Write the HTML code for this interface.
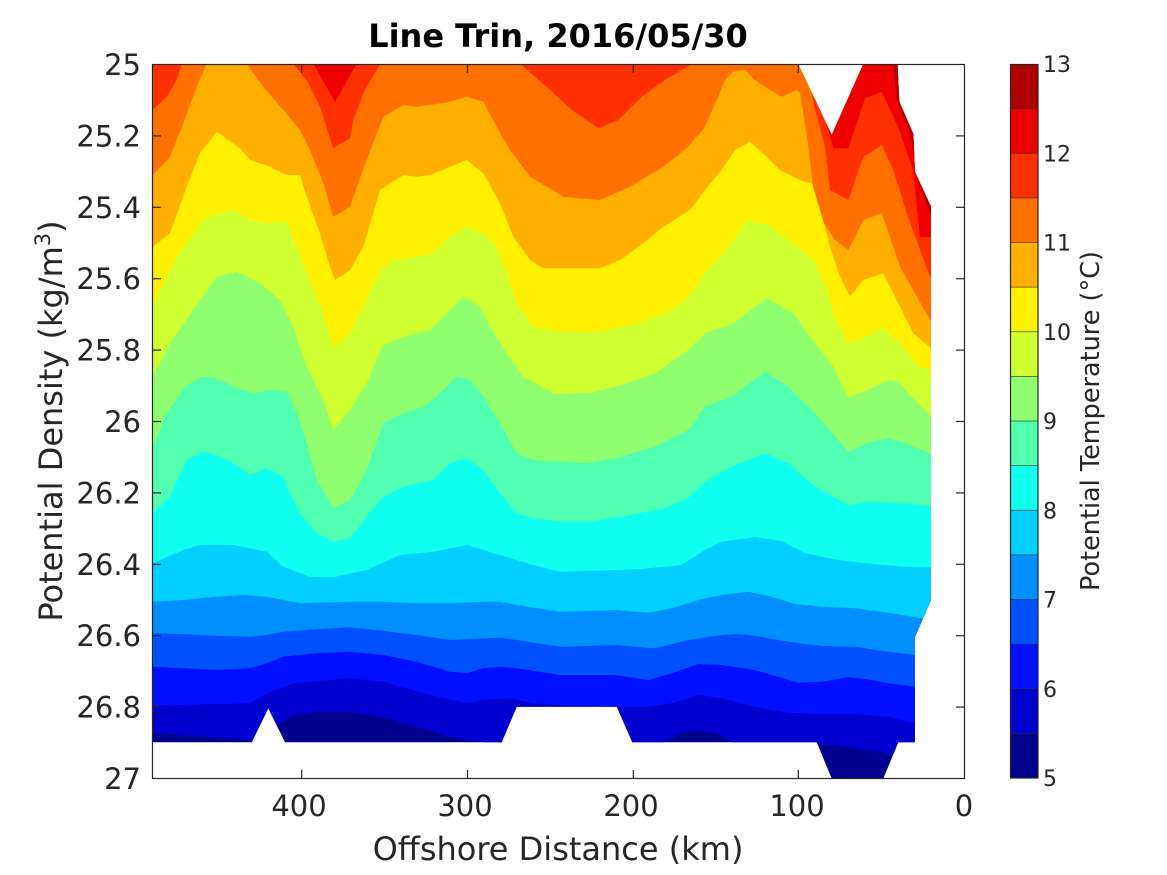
<!DOCTYPE html>
<html><head><meta charset="utf-8"><style>html,body{margin:0;padding:0;background:#fff}svg{display:block}text{font-family:"DejaVu Sans","Liberation Sans",sans-serif;fill:#262626}</style></head>
<body>
<svg width="1167" height="875" viewBox="0 0 1167 875" xmlns="http://www.w3.org/2000/svg">
<defs>
<clipPath id="dm"><path d="M152,64 L798.3,64 L831.7,135 L863.3,64 L897.5,64 L899.3,101.7 L913.3,134 L915,172 L931,206.7 L931,600 L915,636.7 L915,742.3 L898.3,742.3 L883.3,778.5 L831.7,778.5 L816.7,742.3 L632.3,742.3 L616.7,706.7 L516.7,706.7 L501.7,742.3 L285,742.3 L268.3,708.3 L251.7,742.3 L152,742.3 Z"/></clipPath>
</defs>
<rect width="1167" height="875" fill="#fff"/>
<g clip-path="url(#dm)">
<rect x="140" y="40" width="820" height="760" fill="#00008F"/>
<path fill="#0000CF" d="M140,733 L152,733 L250,740 L262,760 L276,760 L278,725 L293,715 L317,712 L350,712 L383,717 L417,727 L450,737 L483,742 L495,760 L655,760 L665,742 L682,733 L698,731 L715,733 L732,742 L742,760 L812,760 L817,744 L855,748 L888,753 L915,758 L945,758 L945,30 L140,30 Z"/>
<path fill="#0010FF" d="M140,705.7 L152.7,705.7 L250,703.3 L266.7,693.3 L293.3,683.3 L350,678.3 L383.3,681.7 L423.3,693.3 L466.7,703.3 L483.3,700 L510,698.3 L533.3,703.3 L560,705 L616.7,706.7 L648.3,706.7 L671.7,703.3 L698.3,695 L721.7,698.3 L755,706.7 L788.3,712.7 L821.7,714 L855,714 L888.3,716.7 L915,723.3 L945,725 L945,30 L140,30 Z"/>
<path fill="#0050FF" d="M140,666.7 L152.7,666.7 L183.3,668.3 L216.7,670 L250,668.3 L266.7,663.3 L283.3,656.7 L316.7,653.3 L350,651.7 L383.3,655 L416.7,661.7 L450,671.7 L466.7,673.3 L483.3,668.3 L500,666.7 L516.7,668.3 L560,675 L588.3,675 L615,675 L648.3,680 L671.7,673.3 L698.3,664 L721.7,665 L755,670 L798.3,682.7 L821.7,681.7 L848.3,677.3 L871.7,680 L888.3,683.3 L915,686.7 L945,688 L945,30 L140,30 Z"/>
<path fill="#008FFF" d="M140,633.3 L152.7,633.3 L183.3,634.3 L216.7,635.7 L250,636.7 L266.7,635 L283.3,631.7 L316.7,629.3 L350,627.3 L383.3,630.7 L416.7,635 L450,640 L483.3,638.3 L500,637.7 L516.7,640 L560,646.7 L588.3,646 L615,645 L655,648.3 L688.3,640 L721.7,635 L738.3,634 L755,635.7 L788.3,641.7 L821.7,646 L855,646.7 L888.3,651.7 L915,655 L945,656 L945,30 L140,30 Z"/>
<path fill="#00CFFF" d="M140,601.7 L152.7,601.7 L183.3,600 L216.7,596.7 L243.3,595 L266.7,596.7 L300,603.3 L350,601.7 L383.3,601.7 L416.7,603.3 L450,603.3 L483.3,601.7 L500,601.7 L516.7,605 L560,611.7 L588.3,611 L615,610 L648.3,612.7 L671.7,608.3 L698.3,600 L721.7,595 L748.3,591.7 L771.7,596.7 L795,604 L821.7,606.7 L855,608.3 L888.3,612.7 L921.7,618.3 L945,620 L945,30 L140,30 Z"/>
<path fill="#10FFEF" d="M140,563.3 L152.7,563.3 L183.3,550 L200,545 L233.3,545 L266.7,551.7 L283.3,566.7 L310,576.7 L333.3,577.3 L366.7,570 L400,555 L433.3,551.7 L466.7,545 L500,555 L533.3,565 L560,571.7 L588.3,570.7 L638.3,569.3 L681.7,565 L705,550 L721.7,541.7 L755,537 L781.7,541 L805,553.3 L838.3,560 L871.7,564 L905,566.7 L945,567.3 L945,30 L140,30 Z"/>
<path fill="#50FFAF" d="M140,513.3 L152.7,513.3 L170,496.7 L186.7,460 L203.3,451.7 L216.7,455 L233.3,463.3 L250,475 L266.7,468.3 L283.3,476.7 L290,493.3 L300,513.3 L316.7,533.3 L333.3,541.7 L350,538.3 L366.7,516.7 L383.3,496.7 L403.3,486.7 L433.3,480 L450,463.3 L466.7,458.3 L483.3,470 L500,493.3 L516.7,513.3 L533.3,518.3 L560,521.7 L588.3,521.7 L621.7,516.7 L665,508.3 L688.3,498.3 L705,481.7 L731.7,466.7 L765,453.3 L788.3,463.3 L815,486.7 L848.3,505 L871.7,501.7 L905,503.3 L945,508.3 L945,30 L140,30 Z"/>
<path fill="#8FFF70" d="M140,446.7 L152.7,446.7 L166.7,413.3 L186.7,385 L203.3,376.7 L216.7,378.3 L236.7,388.3 L253.3,393.3 L270,390 L286.7,391.7 L296.7,413.3 L306.7,443.3 L316.7,480 L333.3,508.3 L350,500 L366.7,470 L383.3,423.3 L403.3,413.3 L423.3,406.7 L436.7,396.7 L456.7,376.7 L470,380 L483.3,396.7 L500,423.3 L516.7,453.3 L533.3,460 L560,461.7 L588.3,463.3 L621.7,456.7 L655,446.7 L688.3,430 L705,406.7 L731.7,396.7 L765,371.7 L788.3,386.7 L815,413.3 L848.3,451.7 L871.7,441.7 L888.3,438.3 L905,443.3 L945,460 L945,30 L140,30 Z"/>
<path fill="#CFFF30" d="M140,376.7 L152.7,376.7 L170,343.3 L200,300 L216.7,276.7 L236.7,271.7 L260,283.3 L280,300 L293.3,326.7 L306.7,366.7 L323.3,400 L333.3,430 L350,410 L366.7,383.3 L383.3,345 L403.3,337 L430,330 L463.3,296.7 L480,306.7 L490,326.7 L506.7,353.3 L523.3,376.7 L555,394 L588.3,393 L621.7,385 L655,373.3 L688.3,350 L705,333.3 L733.3,323.3 L766.7,298.3 L793.3,313.3 L810,336.7 L833.3,366.7 L848.3,398 L871.7,388.3 L888.3,380 L898.3,381.7 L915,400 L945,430 L945,30 L140,30 Z"/>
<path fill="#FFEF00" d="M140,306.7 L152.7,306.7 L166.7,276.7 L183.3,246.7 L206.7,216.7 L233.3,210 L250,220 L266.7,223.3 L286.7,221.7 L296.7,246.7 L310,280 L323.3,313.3 L333.3,346.7 L343.3,340 L350,333.3 L363.3,306.7 L380,270 L393.3,260 L416.7,256.7 L430,254 L450,236.7 L466.7,226.7 L483.3,233.3 L496.7,246.7 L506.7,273.3 L516.7,303.3 L533.3,326.7 L563.3,331.7 L600,331.7 L638,323 L672,310 L690,295 L705,273 L728,247 L748,220 L770,226 L798,247 L815,262 L825,285 L833.3,313.3 L848.3,343.3 L866.7,336.7 L881.7,326.7 L900,343.3 L920,366.7 L945,375 L945,30 L140,30 Z"/>
<path fill="#FFAF00" d="M140,246.7 L152.7,246.7 L170,233.3 L186.7,186.7 L200,153.3 L216.7,131.7 L240,148.3 L250,160 L270,166.7 L286.7,175 L300,175 L306.7,196.7 L320,233.3 L330,266.7 L335,280 L350,270 L363.3,246.7 L380,190 L403.3,175 L416.7,176.7 L430,175 L450,166.7 L466.7,160 L483.3,173.3 L500,203.3 L513.3,236.7 L530,260 L543.3,268.3 L600,268.3 L620,260 L643.3,243.3 L663.3,226.7 L690,210 L705,190 L721.7,170 L735,150 L750,141.7 L766.7,156.7 L780,170 L800,180 L815,185 L820,206.7 L830,246.7 L840,276.7 L850,296.7 L863.3,280 L883.3,273.3 L896.7,300 L913.3,333.3 L945,360 L945,30 L140,30 Z"/>
<path fill="#FF7000" d="M140,175 L152.7,175 L170,156.7 L183.3,123.3 L196.7,86.7 L206.7,64 L210,40 L243,40 L246.7,64 L263.3,86.7 L283.3,110 L300,130 L310,150 L323.3,183.3 L333.3,216.7 L350,206.7 L356.7,186.7 L366.7,160 L383.3,116.7 L403.3,105 L416.7,106.7 L430,105 L450,101.7 L466.7,96.7 L483.3,101.7 L496.7,126.7 L510,150 L530,176.7 L563.3,196.7 L600,200 L630,186.7 L663.3,166.7 L688.3,146.7 L705,126.7 L716.7,100 L725,80 L733.3,71.7 L745,70 L755,80 L766.7,88 L781.7,96.7 L796.7,90 L800,93 L808,143 L813,186.7 L824,223.3 L835,240 L848.3,250 L863.3,220 L881.7,213.3 L900,266.7 L930,320 L945,320 L945,30 L140,30 Z"/>
<path fill="#FF3000" d="M140,110 L152.7,110 L166.7,96.7 L176.7,80 L181.7,64 L183,40 L292,40 L293.3,64 L306.7,80 L320,106.7 L333.3,148.3 L350,138.3 L353.3,120 L363.3,93.3 L380,64 L381,40 L519,40 L520,64 L546.7,86.7 L571.7,110 L598.3,128.3 L618.3,120 L641.7,96.7 L665,80 L691.7,64 L693,40 L800,40 L806,64 L815,110 L825,146.7 L830,190 L848.3,200 L863.3,156.7 L881.7,145 L893.3,170 L906.7,213.3 L930,276.7 L945,277 L945,30 L140,30 Z"/>
<path fill="#EF0000" d="M140,40 L313,40 L313.3,64 L335,101.7 L356.7,64 L357,40 L826,40 L826,123 L833.3,148.3 L848.3,148.3 L865,98.3 L881.7,91.7 L898,126.7 L913,170 L920,237 L945,237 L945,30 L140,30 Z"/>
<path fill="#AF0000" d="M893.3,40 L893.3,64 L896.7,100 L911,135 L916.7,176.7 L931,215 L945,215 L945,40 Z"/>
</g>
<!-- axes box -->
<rect x="152.5" y="64.5" width="812" height="714" fill="none" stroke="#262626" stroke-width="1.2"/>
<g stroke="#262626" stroke-width="1.2">
<line x1="301.7" y1="778.5" x2="301.7" y2="770"/><line x1="467.5" y1="778.5" x2="467.5" y2="770"/><line x1="633.3" y1="778.5" x2="633.3" y2="770"/><line x1="798.3" y1="778.5" x2="798.3" y2="770"/>
<line x1="301.7" y1="64.5" x2="301.7" y2="73"/><line x1="467.5" y1="64.5" x2="467.5" y2="73"/><line x1="633.3" y1="64.5" x2="633.3" y2="73"/><line x1="798.3" y1="64.5" x2="798.3" y2="73"/>
<line x1="152.5" y1="135.9" x2="161" y2="135.9"/><line x1="152.5" y1="207.3" x2="161" y2="207.3"/><line x1="152.5" y1="278.7" x2="161" y2="278.7"/><line x1="152.5" y1="350.1" x2="161" y2="350.1"/><line x1="152.5" y1="421.5" x2="161" y2="421.5"/><line x1="152.5" y1="492.9" x2="161" y2="492.9"/><line x1="152.5" y1="564.3" x2="161" y2="564.3"/><line x1="152.5" y1="635.7" x2="161" y2="635.7"/><line x1="152.5" y1="707.1" x2="161" y2="707.1"/>
<line x1="964.5" y1="135.9" x2="956" y2="135.9"/><line x1="964.5" y1="207.3" x2="956" y2="207.3"/><line x1="964.5" y1="278.7" x2="956" y2="278.7"/><line x1="964.5" y1="350.1" x2="956" y2="350.1"/><line x1="964.5" y1="421.5" x2="956" y2="421.5"/><line x1="964.5" y1="492.9" x2="956" y2="492.9"/><line x1="964.5" y1="564.3" x2="956" y2="564.3"/><line x1="964.5" y1="635.7" x2="956" y2="635.7"/><line x1="964.5" y1="707.1" x2="956" y2="707.1"/>
</g>
<!-- y tick labels -->
<g font-size="29" text-anchor="end">
<text x="141" y="75">25</text><text x="141" y="146.4">25.2</text><text x="141" y="217.8">25.4</text><text x="141" y="289.2">25.6</text><text x="141" y="360.6">25.8</text><text x="141" y="432">26</text><text x="141" y="503.4">26.2</text><text x="141" y="574.8">26.4</text><text x="141" y="646.2">26.6</text><text x="141" y="717.6">26.8</text><text x="141" y="789">27</text>
</g>
<!-- x tick labels -->
<g font-size="29" text-anchor="middle">
<text x="299" y="816">400</text><text x="465" y="816">300</text><text x="631" y="816">200</text><text x="797" y="816">100</text><text x="964" y="816">0</text>
</g>
<text x="558" y="860" font-size="32" text-anchor="middle">Offshore Distance (km)</text>
<text transform="translate(62,421) rotate(-90)" font-size="32" text-anchor="middle">Potential Density (kg/m<tspan font-size="21" dy="-12">3</tspan><tspan dy="12">)</tspan></text>
<text x="558" y="47" font-size="32" font-weight="bold" text-anchor="middle" style="fill:#000">Line Trin, 2016/05/30</text>
<!-- colorbar -->
<g>
<rect x="1010" y="64" width="28" height="44.625" fill="#AF0000"/>
<rect x="1010" y="108.625" width="28" height="44.625" fill="#EF0000"/>
<rect x="1010" y="153.25" width="28" height="44.625" fill="#FF3000"/>
<rect x="1010" y="197.875" width="28" height="44.625" fill="#FF7000"/>
<rect x="1010" y="242.5" width="28" height="44.625" fill="#FFAF00"/>
<rect x="1010" y="287.125" width="28" height="44.625" fill="#FFEF00"/>
<rect x="1010" y="331.75" width="28" height="44.625" fill="#CFFF30"/>
<rect x="1010" y="376.375" width="28" height="44.625" fill="#8FFF70"/>
<rect x="1010" y="421" width="28" height="44.625" fill="#50FFAF"/>
<rect x="1010" y="465.625" width="28" height="44.625" fill="#10FFEF"/>
<rect x="1010" y="510.25" width="28" height="44.625" fill="#00CFFF"/>
<rect x="1010" y="554.875" width="28" height="44.625" fill="#008FFF"/>
<rect x="1010" y="599.5" width="28" height="44.625" fill="#0050FF"/>
<rect x="1010" y="644.125" width="28" height="44.625" fill="#0010FF"/>
<rect x="1010" y="688.75" width="28" height="44.625" fill="#0000CF"/>
<rect x="1010" y="733.375" width="28" height="44.625" fill="#00008F"/>
</g>
<g stroke="#262626" stroke-width="0.8" opacity="0.8">
<line x1="1010" x2="1038" y1="108.6" y2="108.6"/><line x1="1010" x2="1038" y1="153.25" y2="153.25"/><line x1="1010" x2="1038" y1="197.9" y2="197.9"/><line x1="1010" x2="1038" y1="242.5" y2="242.5"/><line x1="1010" x2="1038" y1="287.1" y2="287.1"/><line x1="1010" x2="1038" y1="331.75" y2="331.75"/><line x1="1010" x2="1038" y1="376.4" y2="376.4"/><line x1="1010" x2="1038" y1="421" y2="421"/><line x1="1010" x2="1038" y1="465.6" y2="465.6"/><line x1="1010" x2="1038" y1="510.25" y2="510.25"/><line x1="1010" x2="1038" y1="554.9" y2="554.9"/><line x1="1010" x2="1038" y1="599.5" y2="599.5"/><line x1="1010" x2="1038" y1="644.1" y2="644.1"/><line x1="1010" x2="1038" y1="688.75" y2="688.75"/><line x1="1010" x2="1038" y1="733.4" y2="733.4"/>
</g>
<rect x="1010.5" y="64.5" width="27.5" height="713.5" fill="none" stroke="#262626" stroke-width="1.2"/>
<g font-size="22">
<text x="1043" y="72">13</text><text x="1043" y="161.25">12</text><text x="1043" y="250.5">11</text><text x="1043" y="339.75">10</text><text x="1043" y="429">9</text><text x="1043" y="518.25">8</text><text x="1043" y="607.5">7</text><text x="1043" y="696.75">6</text><text x="1043" y="786">5</text>
</g>
<text transform="translate(1099,421) rotate(-90)" font-size="25.5" text-anchor="middle">Potential Temperature (°C)</text>
</svg>
</body></html>
